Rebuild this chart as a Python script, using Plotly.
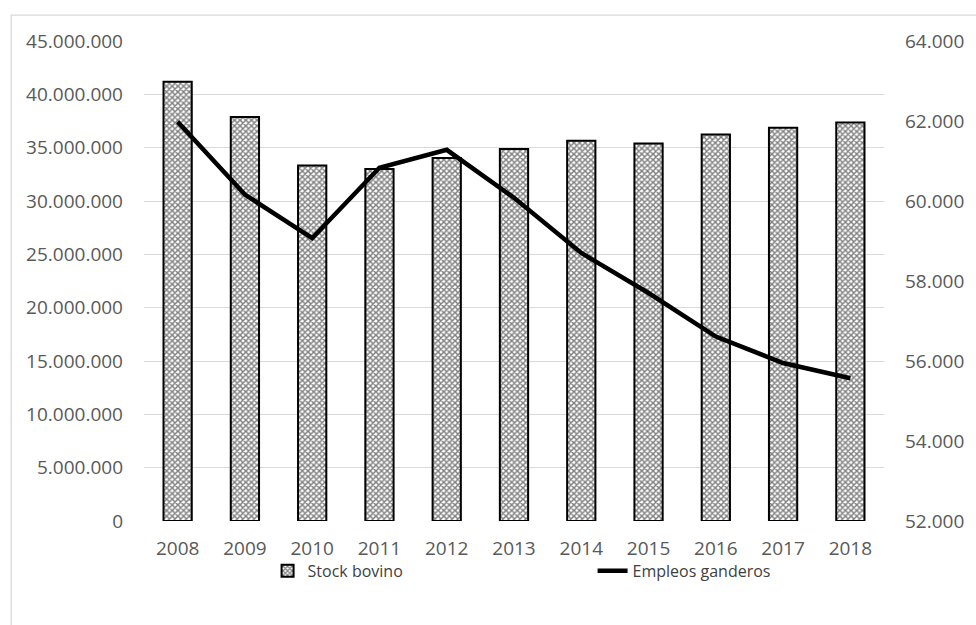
import plotly.graph_objects as go

years = ["2008", "2009", "2010", "2011", "2012", "2013", "2014", "2015", "2016", "2017", "2018"]
stock_bovino = [41180000, 37870000, 33330000, 32990000, 34020000, 34870000,
                35650000, 35390000, 36240000, 36870000, 37360000]
empleos_ganderos = [61980, 60160, 59070, 60830, 61280, 60080, 58700, 57700, 56610, 55950, 55570]

FONT = "Open Sans"
GRAY = "#595959"
GRID = "#d9d9d9"

fig = go.Figure()
fig.add_trace(go.Bar(
    x=years, y=stock_bovino, name="Stock bovino",
    marker=dict(color="white", line=dict(color="black", width=2),
                pattern=dict(shape="x", fgcolor="black", bgcolor="white",
                             size=4, solidity=0.6, fillmode="overlay")),
    yaxis="y",
))
fig.add_trace(go.Scatter(
    x=years, y=empleos_ganderos, name="Empleos ganderos", mode="lines",
    line=dict(color="black", width=4.5), yaxis="y2",
))

fig.update_layout(
    width=976, height=625,
    margin=dict(l=144, r=81, t=41, b=104),
    paper_bgcolor="white", plot_bgcolor="white",
    separators=",.",
    bargap=0.58,
    font=dict(family=FONT, size=19, color=GRAY),
    xaxis=dict(showgrid=False, showline=False, ticks="", ticklabelstandoff=14,
               tickfont=dict(size=19, color=GRAY)),
    yaxis=dict(range=[0, 45000000], dtick=5000000, tickformat=",d",
               showgrid=True, gridcolor=GRID, gridwidth=1.3, zeroline=False,
               showline=False, ticks="", ticklabelstandoff=20,
               tickfont=dict(size=19, color=GRAY)),
    yaxis2=dict(range=[52000, 64000], dtick=2000, tickformat=",d",
                overlaying="y", side="right", showgrid=False, zeroline=False,
                showline=False, ticks="", ticklabelstandoff=20,
                tickfont=dict(size=19, color=GRAY)),
    legend=dict(orientation="h", x=0.167, xanchor="left", y=-0.104, yanchor="middle",
                font=dict(size=16, color="#404040"), itemwidth=30,
                bgcolor="rgba(0,0,0,0)", tracegroupgap=0, entrywidth=280,
                entrywidthmode="pixels"),
    showlegend=True,
    shapes=[dict(type="rect", xref="paper", yref="paper",
                 x0=-0.1795, x1=1.2, y0=-0.3, y1=1.054,
                 line=dict(color=GRID, width=1.3), layer="below")],
)

fig.write_html("out.html")
